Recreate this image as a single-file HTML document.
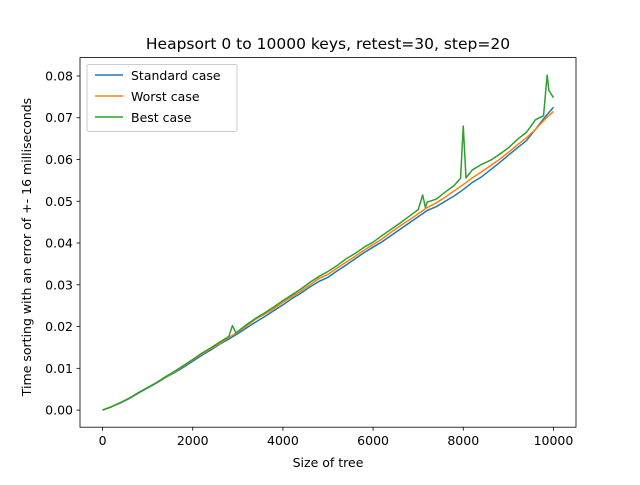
<!DOCTYPE html>
<html><head><meta charset="utf-8"><style>
body{margin:0;background:#fff;font-family:"Liberation Sans","DejaVu Sans",sans-serif}
svg text{font-family:"DejaVu Sans","Liberation Sans",sans-serif;fill:#000}
</style></head><body>
<svg id="chart" width="640" height="480">
<rect width="640" height="480" fill="#fff"/>
<g id="plot"></g>
</svg>
<script>
const xs=[0,200,400,600,800,1000,1200,1400,1600,1800,2000,2200,2400,2600,2800,3000,3200,3400,3600,3800,4000,4200,4400,4600,4800,5000,5200,5400,5600,5800,6000,6200,6400,6600,6800,7000,7200,7400,7600,7800,8000,8200,8400,8600,8800,9000,9200,9400,9600,9800,10000];
const standardCase=[0,0.0008,0.0017,0.0028,0.0041,0.0053,0.0065,0.0078,0.009,0.0103,0.0117,0.0131,0.0144,0.0158,0.017,0.0183,0.0197,0.0211,0.0224,0.0238,0.0252,0.0267,0.028,0.0295,0.0308,0.0318,0.0333,0.0347,0.0362,0.0377,0.039,0.0403,0.0418,0.0433,0.0448,0.0463,0.0478,0.0487,0.05,0.0513,0.0528,0.0545,0.0558,0.0575,0.0592,0.061,0.0628,0.0645,0.0672,0.07,0.0725];
const worstCase=[0,0.0008,0.0018,0.0029,0.0042,0.0054,0.0066,0.0079,0.0092,0.0106,0.012,0.0134,0.0147,0.016,0.0174,0.0187,0.0202,0.0218,0.023,0.0243,0.0258,0.0272,0.0285,0.03,0.0315,0.0325,0.034,0.0354,0.0368,0.0383,0.0396,0.041,0.0426,0.0441,0.0455,0.047,0.0485,0.0496,0.051,0.0525,0.054,0.0556,0.057,0.0585,0.06,0.0617,0.0635,0.0652,0.0672,0.0695,0.0715];
const bestXs=[0,200,400,600,800,1000,1200,1400,1600,1800,2000,2200,2400,2600,2800,2880,2960,3200,3400,3600,3800,4000,4200,4400,4600,4800,5000,5200,5400,5600,5800,6000,6200,6400,6600,6800,7000,7100,7160,7200,7400,7600,7800,7940,8000,8060,8200,8400,8600,8800,9000,9200,9400,9600,9780,9860,9900,9960,10000];
const bestCase=[0,0.0008,0.0018,0.0029,0.0042,0.0054,0.0066,0.008,0.0093,0.0107,0.0121,0.0136,0.0149,0.0163,0.0176,0.0202,0.0185,0.0205,0.022,0.0233,0.0247,0.0262,0.0276,0.029,0.0306,0.032,0.0332,0.0346,0.0362,0.0375,0.039,0.0402,0.0418,0.0433,0.0448,0.0464,0.048,0.0515,0.0485,0.0498,0.0505,0.0522,0.0538,0.0555,0.068,0.0556,0.0575,0.0588,0.0598,0.0612,0.0628,0.0648,0.0665,0.0695,0.0705,0.0802,0.0765,0.0755,0.0748];
const xTicks=[0,2000,4000,6000,8000,10000];
const yTicks=[0,0.01,0.02,0.03,0.04,0.05,0.06,0.07,0.08];
const L=80,R=576,T=57.6,B=427.2,xmin=-500,xmax=10500,ymin=-0.0041,ymax=0.0844;
const X=v=>L+(v-xmin)/(xmax-xmin)*(R-L);
const Y=v=>B-(v-ymin)/(ymax-ymin)*(B-T);
const g=document.getElementById('plot');const NS='http://www.w3.org/2000/svg';
function mk(t,a,p){const e=document.createElementNS(NS,t);for(const k in a)e.setAttribute(k,a[k]);(p||g).appendChild(e);return e;}
const series=[[xs,standardCase,'#1f77b4','standard-case-line'],[xs,worstCase,'#ff7f0e','worst-case-line'],[bestXs,bestCase,'#2ca02c','best-case-line']];
series.forEach(s=>{const p=mk('polyline',{points:s[0].map((x,i)=>X(x)+','+Y(s[1][i])).join(' '),fill:'none',stroke:s[2],'stroke-width':1.5,'stroke-linejoin':'round'});

});
mk('rect',{x:L,y:T,width:R-L,height:B-T,fill:'none',stroke:'#000','stroke-width':0.8});
xTicks.forEach(v=>{mk('line',{x1:X(v),x2:X(v),y1:B,y2:B+3.5,stroke:'#000','stroke-width':0.8});
const t=mk('text',{x:X(v),y:B+18,'text-anchor':'middle','font-size':12.5});t.textContent=v;

});
yTicks.forEach(v=>{mk('line',{x1:L-3.5,x2:L,y1:Y(v),y2:Y(v),stroke:'#000','stroke-width':0.8});
const t=mk('text',{x:L-7,y:Y(v)+4.5,'text-anchor':'end','font-size':12.5});t.textContent=v.toFixed(2);

});
</script>
<svg width="640" height="480" style="position:absolute;left:0;top:0">
<text x="328" y="49" text-anchor="middle" font-size="15.5">Heapsort 0 to 10000 keys, retest=30, step=20</text>
<text x="328" y="467" text-anchor="middle" font-size="12.5">Size of tree</text>
<text x="0" y="0" transform="translate(31,247) rotate(-90)" text-anchor="middle" font-size="12.5">Time sorting with an error of +- 16 milliseconds</text>
<g>
<rect x="87" y="64.5" width="150" height="67" rx="2" fill="#fff" fill-opacity="0.8" stroke="#ccc"/>
<line x1="95" x2="123" y1="75" y2="75" stroke="#1f77b4" stroke-width="1.5"/>
<text x="131" y="80" font-size="12.5">Standard case</text>
<line x1="95" x2="123" y1="96" y2="96" stroke="#ff7f0e" stroke-width="1.5"/>
<text x="131" y="101" font-size="12.5">Worst case</text>
<line x1="95" x2="123" y1="117" y2="117" stroke="#2ca02c" stroke-width="1.5"/>
<text x="131" y="122" font-size="12.5">Best case</text>
</g>
</svg>
</body></html>
